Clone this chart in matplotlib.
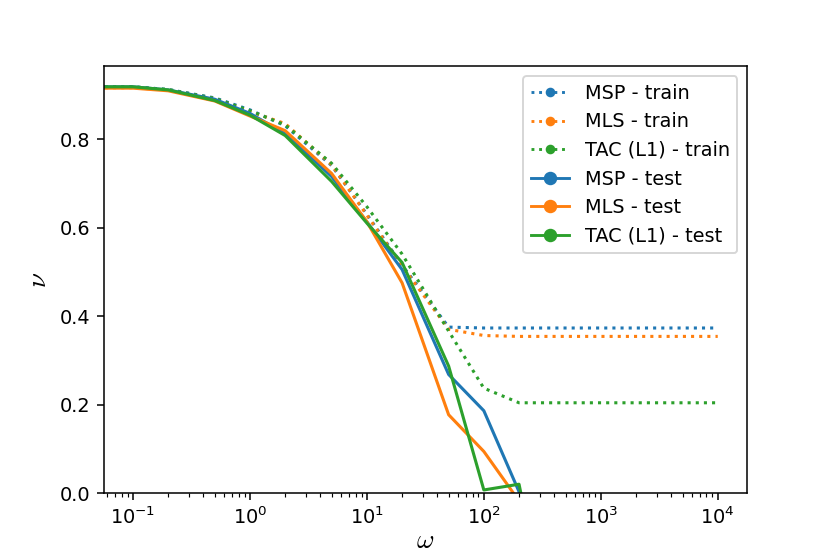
import matplotlib
matplotlib.use("Agg")
import matplotlib.pyplot as plt
from matplotlib.lines import Line2D
import numpy as np

# omega grid (0 gets clipped on the log axis, so the curves reach the left spine)
omega = [0, 0.1, 0.2, 0.5, 1, 2, 5, 10, 20, 50, 100, 200, 500, 1000, 2000, 5000, 10000]

msp_train = [0.918, 0.918, 0.912, 0.893, 0.866, 0.830, 0.740, 0.630, 0.515, 0.375, 0.373, 0.373, 0.373, 0.373, 0.373, 0.373, 0.373]
mls_train = [0.916, 0.916, 0.911, 0.891, 0.862, 0.835, 0.742, 0.628, 0.513, 0.370, 0.356, 0.354, 0.354, 0.354, 0.354, 0.354, 0.354]
tac_train = [0.918, 0.918, 0.912, 0.892, 0.864, 0.832, 0.745, 0.647, 0.540, 0.366, 0.237, 0.204, 0.204, 0.204, 0.204, 0.204, 0.204]

msp_test = [0.918, 0.918, 0.911, 0.890, 0.858, 0.812, 0.715, 0.613, 0.505, 0.268, 0.186, 0.003, -0.5, -0.5, -0.5, -0.5, -0.5]
mls_test = [0.915, 0.915, 0.909, 0.886, 0.852, 0.819, 0.722, 0.613, 0.475, 0.177, 0.094, -0.018, -0.5, -0.5, -0.5, -0.5, -0.5]
tac_test = [0.918, 0.918, 0.911, 0.887, 0.854, 0.808, 0.704, 0.610, 0.521, 0.287, 0.007, 0.020, -0.5, -0.5, -0.5, -0.5, -0.5]

labels = ["MSP", "MLS", "TAC (L1)"]
colors = ["tab:blue", "tab:orange", "tab:green"]

fig, ax = plt.subplots(figsize=(6.0, 4.005), dpi=138.33)

for train, c in zip([msp_train, mls_train, tac_train], colors):
    ax.plot(omega, train, linestyle=':', color=c, linewidth=1.6)
for test, c in zip([msp_test, mls_test, tac_test], colors):
    ax.plot(omega, test, linestyle='-', color=c, linewidth=1.6)

ax.set_xscale('log')
ax.set_xlim(10 ** -1.25, 10 ** 4.25)
ax.set_ylim(0, 0.964)
ax.set_xlabel(r'$\omega$', math_fontfamily='cm', fontsize=14, labelpad=0)
ax.set_ylabel(r'$\nu$', math_fontfamily='cm', fontsize=14, labelpad=4)

# legend handles carry markers that the plotted curves don't show
handles = []
for name, c in zip(labels, colors):
    handles.append(Line2D([], [], color=c, linestyle=':', marker='o', markersize=4, label=f"{name} - train"))
for name, c in zip(labels, colors):
    handles.append(Line2D([], [], color=c, linestyle='-', marker='o', markersize=6, label=f"{name} - test"))
ax.legend(handles=handles, loc='upper right')

plt.savefig('out.png')
